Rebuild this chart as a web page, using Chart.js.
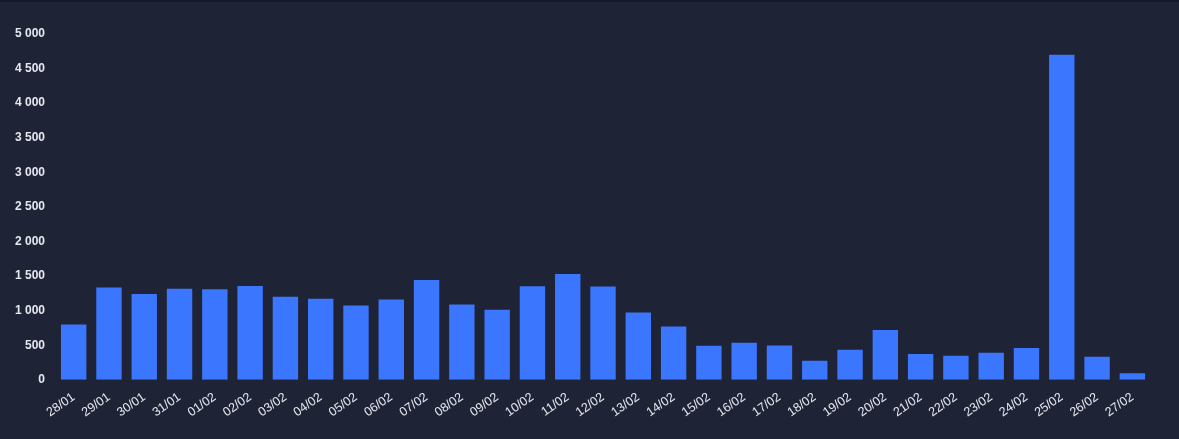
<!DOCTYPE html>
<html>
<head>
<meta charset="utf-8">
<script src="https://cdn.jsdelivr.net/npm/chart.js@4.4.1/dist/chart.umd.min.js"></script>
<style>
  html, body { margin: 0; padding: 0; background: #1f2336; }
  body { border-top: 2px solid #151927; }
  #wrap { width: 1179px; height: 437px; position: relative; }
</style>
</head>
<body>
<div id="wrap"><canvas id="myChart"></canvas></div>
<script>
// dias
const days = ['28/01', '29/01', '30/01', '31/01', '01/02', '02/02', '03/02', '04/02', '05/02', '06/02',
  '07/02', '08/02', '09/02', '10/02', '11/02', '12/02', '13/02', '14/02', '15/02', '16/02',
  '17/02', '18/02', '19/02', '20/02', '21/02', '22/02', '23/02', '24/02', '25/02', '26/02', '27/02'];

// valores por dia
const counts = [800, 1333, 1242, 1318, 1308, 1357, 1199, 1170, 1073, 1160,
  1444, 1088, 1011, 1352, 1530, 1347, 973, 771, 492, 536,
  497, 276, 435, 718, 372, 348, 392, 458, 4700, 334, 94];

// eje y
const yMax = 5000;
const yStep = 500;

const ctx = document.getElementById('myChart').getContext('2d');

// separador de miles con espacio
function fmt(v) {
  return String(v).replace(/\B(?=(\d{3})+(?!\d))/g, ' ');
}

const myChart = new Chart(ctx, {
  type: 'bar',
  data: {
    labels: days,
    datasets: [{
      data: counts,
      backgroundColor: '#3b76fe',
      borderWidth: 0
    }]
  },
  options: {
    responsive: true,
    maintainAspectRatio: false,
    animation: false,
    layout: { padding: { top: 32, right: 29, bottom: 9, left: 4 } },
    plugins: { legend: { display: false }, tooltip: { enabled: false } },
    scales: {
      x: {
        grid: { display: false, drawTicks: false },
        border: { display: false },
        ticks: {
          color: '#e6e8ef',
          font: { family: 'Liberation Sans', size: 12.5 },
          minRotation: 35,
          maxRotation: 35,
          padding: 10
        }
      },
      y: {
        min: 0,
        max: yMax,
        grid: { display: false, drawTicks: false },
        border: { display: false },
        ticks: {
          stepSize: yStep,
          color: '#e6e8ef',
          font: { family: 'Liberation Sans', size: 12, weight: 'bold' },
          padding: 11,
          callback: v => fmt(v)
        }
      }
    }
  }
});
</script>
</body>
</html>
